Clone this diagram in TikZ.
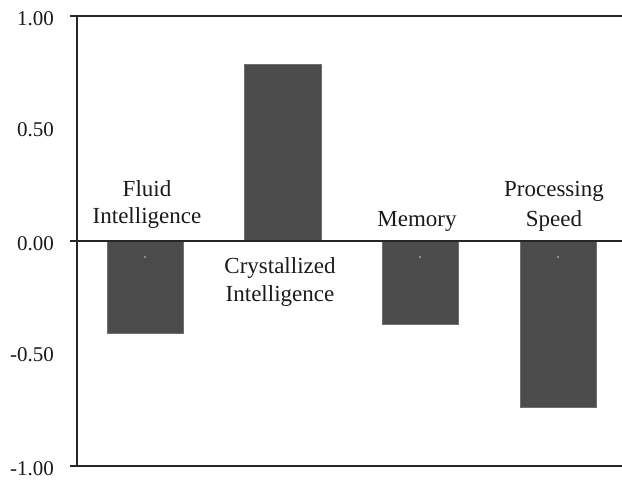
\documentclass[tikz,border=0pt]{standalone}
\usepackage{fontspec}
\setmainfont{Liberation Serif}
\definecolor{axiscol}{HTML}{262626}
\definecolor{barcol}{HTML}{4B4B4B}
\definecolor{baredge}{HTML}{6E6E6E}
\definecolor{textcol}{HTML}{1A1A1A}
\tikzset{
  axisline/.style={draw=axiscol, line width=2.2pt},
  barbox/.style={fill=barcol, draw=baredge, line width=0.7pt},
  ticklab/.style={anchor=east, inner sep=0pt, text=textcol, font=\fontsize{21}{25}\selectfont},
  catlab/.style={anchor=base, inner sep=0pt, text=textcol, font=\fontsize{23}{27}\selectfont},
  bardot/.style={fill=gray!70, draw=none}
}
\begin{document}
\begin{tikzpicture}[x=1pt, y=-1pt]
\useasboundingbox (0,0) rectangle (622,481);
% bars
\draw[barbox] (107,241) rectangle (183,333);
\draw[barbox] (244,241) rectangle (321,64);
\draw[barbox] (382,241) rectangle (458,324);
\draw[barbox] (520,241) rectangle (596,407);
\fill[bardot] (145,257) circle (1.1);
\fill[bardot] (420,257) circle (1.1);
\fill[bardot] (558,257) circle (1.1);
% axes
\coordinate (topL) at (70,16);
\coordinate (topR) at (622,16);
\coordinate (zeroL) at (70,241);
\coordinate (zeroR) at (622,241);
\coordinate (botL) at (70,466);
\coordinate (botR) at (622,466);
\coordinate (axTop) at (77,16);
\coordinate (axBot) at (77,466);
\draw[axisline] (topL) -- (topR);
\draw[axisline] (zeroL) -- (zeroR);
\draw[axisline] (botL) -- (botR);
\draw[axisline] (axTop) -- (axBot);
% tick labels
\node[ticklab] (t1) at (54,19) {1.00};
\node[ticklab] (t05) at (54,130) {0.50};
\node[ticklab] (t0) at (54,244) {0.00};
\node[ticklab] (tm05) at (54,355) {-0.50};
\node[ticklab] (tm1) at (54,469) {-1.00};
% category labels
\node[catlab] (fl1) at (147,197) {Fluid};
\node[catlab] (fl2) at (147,224) {Intelligence};
\node[catlab] (cr1) at (280,274) {Crystallized};
\node[catlab] (cr2) at (280,302) {Intelligence};
\node[catlab] (me1) at (417,227) {Memory};
\node[catlab] (pr1) at (554,197) {Processing};
\node[catlab] (pr2) at (554,227) {Speed};
\end{tikzpicture}
\end{document}
